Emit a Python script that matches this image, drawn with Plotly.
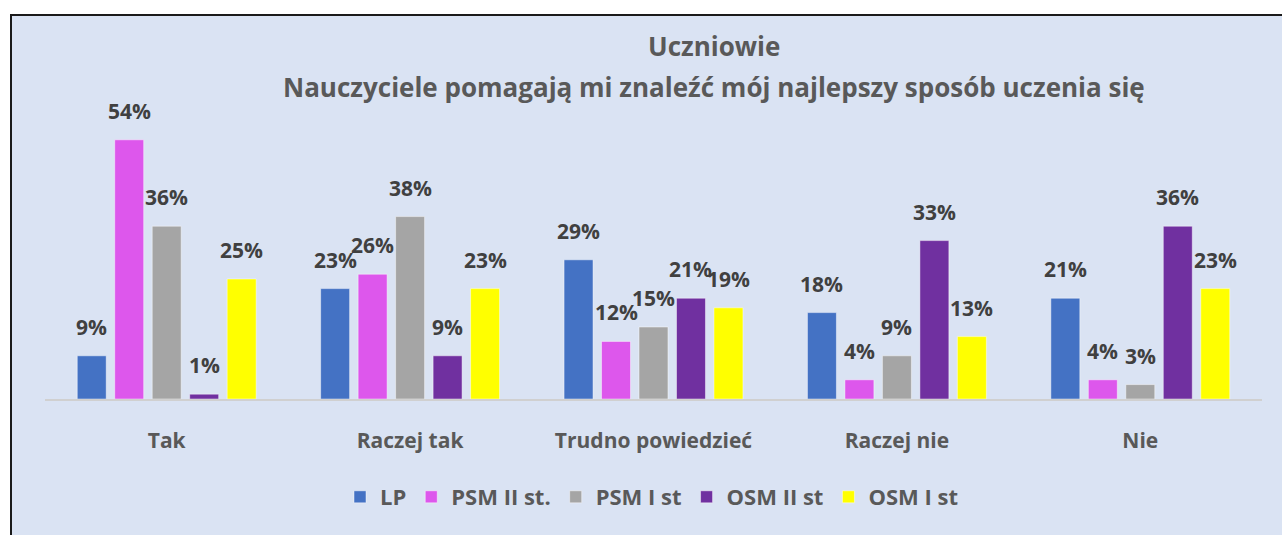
import plotly.graph_objects as go

# Survey answers (share of respondents, %) per group
categories = ["Tak", "Raczej tak", "Trudno powiedzieć", "Raczej nie", "Nie"]
series_names = ["LP", "PSM II st.", "PSM I st", "OSM II st", "OSM I st"]
lp = [9, 23, 29, 18, 21]
psm_ii = [54, 26, 12, 4, 4]
psm_i = [36, 38, 15, 9, 3]
osm_ii = [1, 9, 21, 33, 36]
osm_i = [25, 23, 19, 13, 23]

series_values = [lp, psm_ii, psm_i, osm_ii, osm_i]
colors = ["#4472C4", "#DD57EC", "#A5A5A5", "#7030A0", "#FFFF00"]

title_line1 = "Uczniowie"
title_line2 = "Nauczyciele pomagają mi znaleźć mój najlepszy sposób uczenia się"

W, H = 1282, 535
ML, MR, MT, MB = 45, 20, 111, 136
plot_w = W - ML - MR
plot_h = H - MT - MB
Y_MAX = 60

FONT = "Open Sans"
BAR_PITCH = 0.154
BAR_W = 0.119

fig = go.Figure()
x_idx = list(range(len(categories)))
annotations = []

for k, (name, vals, col) in enumerate(zip(series_names, series_values, colors)):
    center = (k - 2) * BAR_PITCH
    fig.add_trace(go.Bar(
        name=name,
        x=x_idx,
        y=vals,
        width=BAR_W,
        offset=center - BAR_W / 2,
        marker=dict(color=col, line=dict(color="rgba(255,255,255,0.45)", width=1)),
        hoverinfo="skip",
    ))
    for i, v in enumerate(vals):
        annotations.append(dict(
            x=i + center, y=v, xref="x", yref="y",
            text=f"{v}%", showarrow=False,
            yanchor="middle", xanchor="center", yshift=29,
            font=dict(family=FONT, size=21, color="#404040", weight="bold"),
        ))

def px_to_paper_x(px):
    return (px - ML) / plot_w

def px_to_paper_y(py):
    return (H - MB - py) / plot_h

# Two-line heading
annotations.append(dict(
    x=px_to_paper_x(714), y=px_to_paper_y(46), xref="paper", yref="paper",
    text=title_line1, showarrow=False, xanchor="center", yanchor="middle",
    font=dict(family=FONT, size=26, color="#595959", weight="bold"),
))
annotations.append(dict(
    x=px_to_paper_x(714), y=px_to_paper_y(87), xref="paper", yref="paper",
    text=title_line2, showarrow=False, xanchor="center", yanchor="middle",
    font=dict(family=FONT, size=26, color="#595959", weight="bold"),
))

# Chart frame: light blue panel with dark border, running off the right and bottom edges
shapes = [dict(
    type="rect", xref="paper", yref="paper", layer="below",
    x0=px_to_paper_x(11), x1=px_to_paper_x(W + 20),
    y0=px_to_paper_y(H + 20), y1=px_to_paper_y(15),
    fillcolor="#DAE3F3", line=dict(color="#1a1a1a", width=2),
)]

fig.update_layout(
    width=W, height=H,
    margin=dict(l=ML, r=MR, t=MT, b=MB),
    paper_bgcolor="white",
    plot_bgcolor="rgba(0,0,0,0)",
    barmode="overlay",
    showlegend=True,
    legend=dict(
        orientation="h", x=px_to_paper_x(340), xanchor="left",
        y=px_to_paper_y(497), yanchor="middle",
        font=dict(family=FONT, size=22, color="#595959", weight="bold"),
        bgcolor="rgba(0,0,0,0)",
        itemclick=False, itemdoubleclick=False,
    ),
    xaxis=dict(
        range=[-0.5, len(categories) - 0.5],
        tickvals=x_idx, ticktext=categories,
        showgrid=False, zeroline=False,
        showline=True, linecolor="#D0D0D0", linewidth=2,
        ticks="", ticklabelstandoff=22,
        tickfont=dict(family=FONT, size=21, color="#595959", weight="bold"),
        fixedrange=True,
    ),
    yaxis=dict(
        range=[0, Y_MAX], visible=False, showgrid=False, zeroline=False,
        fixedrange=True,
    ),
    annotations=annotations,
    shapes=shapes,
)

fig.write_html("out.html", config={"displayModeBar": False})
